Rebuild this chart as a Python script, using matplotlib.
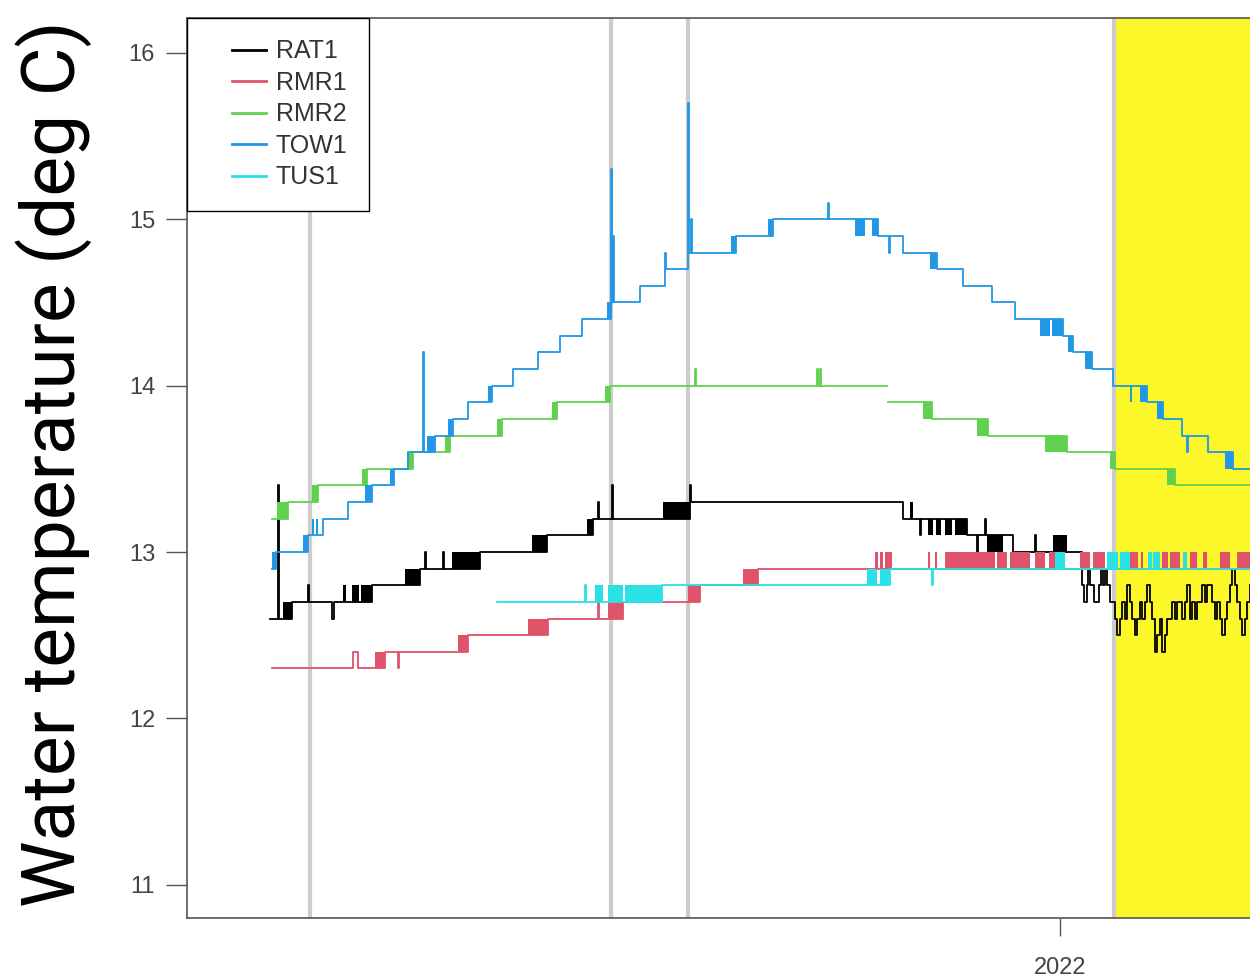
import numpy as np
import pandas as pd
import matplotlib
matplotlib.use("Agg")
import matplotlib.pyplot as plt
import matplotlib.dates as mdates
from matplotlib.legend_handler import HandlerLine2D

# days relative to 2022-01-01, temperature in deg C (step series)
REF = pd.Timestamp("2022-01-01")

rat1_days = [-316, -312.8, -312.4, -307.2, -300.8, -300.4, -291.2, -290.4, -275.2,
             -256, -254, -253.6, -246.8, -246.4, -232, -205.2, -186.8, -184.8, -184.4,
             -179.2, -178.8, -148, -147.6, -62.8, -56, -55.6, -37.2, -33.2, -32.8,
             -30, -29.6, -18.8, -10, -9.6, 8.8, 9.6, 10.8, 11.2, 12, 13.6, 15.6, 16.4,
             17.2, 18, 18.8, 20,
             22, 23, 24, 25, 26, 27, 28, 29, 30, 31, 32, 33, 34, 35, 36, 37, 38, 39,
             40, 41, 42, 43, 44, 45, 46, 47, 48, 49, 50, 51, 52, 53, 54, 55, 56, 57,
             58, 59, 60, 61, 62, 63, 64, 65, 66, 67, 68, 69, 70, 71, 72, 73, 74, 75, 76]
rat1_temp = [12.6, 13.4, 12.6, 12.7, 12.8, 12.7, 12.6, 12.7, 12.8,
             12.9, 13.0, 12.9, 13.0, 12.9, 13.0, 13.1, 13.2, 13.3, 13.2,
             13.4, 13.2, 13.4, 13.3, 13.2, 13.1, 13.2, 13.1, 13.0, 13.1,
             13.2, 13.1, 13.0, 13.1, 13.0, 12.8, 12.7, 12.8, 12.9, 12.8, 12.7, 12.8, 12.9,
             12.8, 12.9, 12.8, 12.7,
             12.6, 12.5, 12.6, 12.7, 12.6, 12.8, 12.7, 12.6, 12.5, 12.6, 12.7, 12.6, 12.7,
             12.8, 12.7, 12.6, 12.4, 12.5, 12.6, 12.4, 12.5, 12.6, 12.6, 12.7, 12.6, 12.7,
             12.7, 12.6, 12.7, 12.8, 12.6, 12.7, 12.6, 12.7, 12.7, 12.8, 12.7, 12.8, 12.8,
             12.7, 12.6, 12.7, 12.6, 12.5, 12.6, 12.7, 12.8, 12.9, 12.8, 12.7, 12.6, 12.5,
             12.6, 12.7, 12.8]
rat1_blocks = [(-310.8, -307.2, 12.6, 12.7), (-286.8, -285.6, 12.7, 12.8),
               (-283.2, -280.4, 12.7, 12.8), (-279.6, -275.2, 12.7, 12.8),
               (-262, -256, 12.8, 12.9), (-243.2, -232, 12.9, 13.0),
               (-211.2, -205.2, 13.0, 13.1), (-189.2, -186.8, 13.1, 13.2),
               (-158.8, -148, 13.2, 13.3), (-60, -58.8, 13.2, 13.3),
               (-52.8, -50.8, 13.1, 13.2), (-49.6, -47.6, 13.1, 13.2),
               (-46, -43.2, 13.1, 13.2), (-42, -37.2, 13.1, 13.2),
               (-29.2, -22.8, 13.0, 13.1), (-2.8, 2.8, 13.0, 13.1)]

rmr1_days = [-315.2, -282.8, -280.8, -270, -264.8, -264.4, -236.8, -204.8, -184.8, -184.4,
             -174.8, -144, -120.8, 76]
rmr1_temp = [12.3, 12.4, 12.3, 12.4, 12.3, 12.4, 12.5, 12.6, 12.7, 12.6,
             12.7, 12.8, 12.9, 12.9]
rmr1_blocks = [(-274, -270, 12.3, 12.4), (-240.8, -236.8, 12.4, 12.5),
               (-212.8, -204.8, 12.5, 12.6), (-180.8, -174.8, 12.6, 12.7),
               (-148.8, -144, 12.7, 12.8), (-126.8, -120.8, 12.8, 12.9),
               (-74, -72.8, 12.9, 13.0), (-72, -70.8, 12.9, 13.0), (-70, -67.2, 12.9, 13.0),
               (-52.8, -52, 12.9, 13.0), (-50, -49.2, 12.9, 13.0), (-46, -26, 12.9, 13.0),
               (-25, -21, 12.9, 13.0), (-20, -12, 12.9, 13.0), (-10, -6, 12.9, 13.0),
               (-4.4, -1.2, 12.9, 13.0), (8, 12, 12.9, 13.0), (13.2, 18, 12.9, 13.0),
               (28, 31.2, 12.9, 13.0), (32.4, 33.2, 12.9, 13.0), (40.8, 43.2, 12.9, 13.0),
               (44, 48, 12.9, 13.0), (52, 54.8, 12.9, 13.0), (57.2, 58.8, 12.9, 13.0),
               (64, 68, 12.9, 13.0), (70.8, 76, 12.9, 13.0)]

rmr2_days = [-315.2, -308.8, -296.8, -277.2, -258.8, -244, -223.2, -201.2, -180,
             -146, -145.6, -97.2, -96.8, -96, -95.6, -69.2, -68.8, -51.2, -28.8,
             2.8, 22, 46, 76]
rmr2_temp = [13.2, 13.3, 13.4, 13.5, 13.6, 13.7, 13.8, 13.9, 14.0,
             14.1, 14.0, 14.1, 14.0, 14.1, 14.0, np.nan, 13.9, 13.8, 13.7,
             13.6, 13.5, 13.4, 13.4]
rmr2_blocks = [(-313.2, -308.8, 13.2, 13.3), (-299.2, -296.8, 13.3, 13.4),
               (-279.2, -277.2, 13.4, 13.5), (-261.2, -258.8, 13.5, 13.6),
               (-246, -244, 13.6, 13.7), (-225.2, -223.2, 13.7, 13.8),
               (-203.2, -201.2, 13.8, 13.9), (-182, -180, 13.9, 14.0),
               (-54.8, -51.2, 13.8, 13.9), (-33.2, -28.8, 13.7, 13.8),
               (-6, 2.8, 13.6, 13.7), (20, 22, 13.5, 13.6), (42.8, 46, 13.4, 13.5)]

tow1_days = [-315.2, -313.6, -300.8, -294.8, -284.8, -275.2, -266.4, -260.8, -254.8,
             -254.4, -250, -242.8, -236.8, -227.2, -218.8, -208.8, -200, -191.2,
             -179.6, -179.2, -178.8, -178.4, -168, -158, -157.6, -148.8, -148.4,
             -147.6, -147.2, -129.6, -114.8, -92.8, -92.4, -72.8, -68.4, -68.0,
             -62.8, -49.2, -38.8, -27.2, -18, 1.2, 5.2, 12.8, 21.2, 34.8, 41.2,
             48.8, 50.8, 51.2, 59.2, 69.2, 76]
tow1_temp = [12.9, 13.0, 13.1, 13.2, 13.3, 13.4, 13.5, 13.6, 14.2,
             13.6, 13.7, 13.8, 13.9, 14.0, 14.1, 14.2, 14.3, 14.4,
             15.3, 14.5, 14.9, 14.5, 14.6, 14.8, 14.7, 15.7, 14.8,
             15.0, 14.8, 14.9, 15.0, 15.1, 15.0, 14.9, 14.8, 14.9,
             14.8, 14.7, 14.6, 14.5, 14.4, 14.3, 14.2, 14.1, 14.0, 13.9, 13.8,
             13.7, 13.6, 13.7, 13.6, 13.5, 13.5]
tow1_blocks = [(-315.2, -313.6, 12.9, 13.0), (-302.8, -300.8, 13.0, 13.1),
               (-299.2, -298.4, 13.1, 13.2), (-297.6, -296.8, 13.1, 13.2),
               (-278, -275.2, 13.3, 13.4), (-268, -266.4, 13.4, 13.5),
               (-253.2, -250, 13.6, 13.7), (-244.8, -242.8, 13.7, 13.8),
               (-228.8, -227.2, 13.9, 14.0), (-181.2, -179.2, 14.4, 14.5),
               (-131.6, -129.6, 14.8, 14.9), (-116.8, -114.8, 14.9, 15.0),
               (-82, -78, 14.9, 15.0), (-75.2, -72.8, 14.9, 15.0),
               (-52, -49.2, 14.7, 14.8), (-8, -4, 14.3, 14.4), (-3, 1.2, 14.3, 14.4),
               (3.2, 5.2, 14.2, 14.3), (10, 12.8, 14.1, 14.2), (28, 29, 13.9, 14.0),
               (32, 34.8, 13.9, 14.0), (38.8, 41.2, 13.8, 13.9), (66, 69.2, 13.5, 13.6)]

tus1_days = [-225.2, -190, -189.6, -159.2, -68, -51.2, -50.8, 76]
tus1_temp = [12.7, 12.8, 12.7, 12.8, 12.9, 12.8, 12.9, 12.9]
tus1_blocks = [(-186, -182.8, 12.7, 12.8), (-180.8, -174.8, 12.7, 12.8),
               (-174, -159.2, 12.7, 12.8), (-77.2, -73.2, 12.8, 12.9),
               (-72, -68, 12.8, 12.9), (-2, 2, 12.9, 13.0), (18.8, 23.2, 12.9, 13.0),
               (24, 28, 12.9, 13.0), (35.2, 36.8, 12.9, 13.0), (37.2, 40, 12.9, 13.0),
               (49.2, 50.8, 12.9, 13.0)]

events = [-300, -179.6, -148.8, 21.6]
highlight = (22.4, 76)

series = [
    ("RAT1", "black", rat1_days, rat1_temp, rat1_blocks),
    ("RMR1", "#DF536B", rmr1_days, rmr1_temp, rmr1_blocks),
    ("RMR2", "#61D04F", rmr2_days, rmr2_temp, rmr2_blocks),
    ("TOW1", "#2297E6", tow1_days, tow1_temp, tow1_blocks),
    ("TUS1", "#28E2E5", tus1_days, tus1_temp, tus1_blocks),
]


def to_dt(days):
    return REF + pd.to_timedelta(np.asarray(days, dtype=float), unit="D")


class RightLine(HandlerLine2D):
    # R-style legend: sample line sits to the right of a blank margin
    def get_xdata(self, legend, xdescent, ydescent, width, height, fontsize):
        x = np.array([-xdescent + width * 0.42, -xdescent + width])
        return x, x


fig = plt.figure(figsize=(12.5, 9.77), dpi=100)
ax = fig.add_axes([187 / 1250, 59 / 977, 1 - 187 / 1250, 900 / 977])

ax.axvspan(to_dt([highlight[0]])[0], to_dt([highlight[1]])[0], color="#fcf728", lw=0, zorder=0)
for d in events:
    ax.axvline(to_dt([d])[0], color="#cccccc", lw=3, zorder=1)

handles = []
for name, col, days, temp, blocks in series:
    ln, = ax.plot(to_dt(days), temp, drawstyle="steps-post", color=col, lw=1.3,
                  label=name, zorder=3)
    handles.append(ln)
    for d0, d1, lo, hi in blocks:
        ax.fill_between(to_dt([d0, d1]), lo, hi, color=col, lw=0, zorder=3)

ax.set_xlim(to_dt([-349.2])[0], to_dt([76])[0])
ax.set_ylim(10.80, 16.21)
ax.set_yticks([11, 12, 13, 14, 15, 16])
ax.xaxis.set_major_locator(mdates.YearLocator())
ax.xaxis.set_major_formatter(mdates.DateFormatter("%Y"))

for s in ["top", "left", "bottom"]:
    ax.spines[s].set_color("#555555")
    ax.spines[s].set_linewidth(1.2)
ax.spines["right"].set_visible(False)
ax.tick_params(axis="y", length=15, width=1, color="#555555", pad=8,
               labelsize=17, labelcolor="#444444")
ax.tick_params(axis="x", length=13, width=1, color="#555555", pad=15,
               labelsize=17, labelcolor="#444444")
for lab in ax.get_xticklabels() + ax.get_yticklabels():
    lab.set_fontfamily("Liberation Sans")

leg = ax.legend(handles=handles, loc="upper left", borderaxespad=0,
                handler_map={h: RightLine() for h in handles},
                prop={"family": "Liberation Sans", "size": 18},
                handlelength=2.3, handletextpad=0.4, labelspacing=0.3,
                borderpad=0.85, fancybox=False, framealpha=1)
leg.get_frame().set_edgecolor("black")
leg.get_frame().set_linewidth(1.0)
for t in leg.get_texts():
    t.set_color("#333333")
for ln in leg.get_lines():
    ln.set_linewidth(2)

fig.text(75 / 1250, 70 / 977, "Water temperature (deg C)", rotation=90,
         rotation_mode="anchor", ha="left", va="baseline",
         fontsize=54, family=["Roboto", "DejaVu Sans"], color="black")

fig.savefig("out.png", dpi=100)
